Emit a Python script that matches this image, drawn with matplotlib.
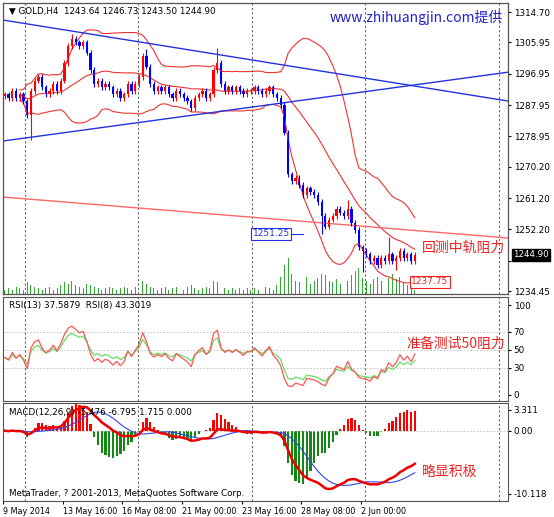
import numpy as np
import pandas as pd
import matplotlib.pyplot as plt

# 4-hour closes, GOLD H4
closes = [1291, 1290, 1292, 1290, 1291, 1289, 1285, 1292, 1295, 1296,
          1293, 1291, 1292, 1294, 1292, 1295, 1300, 1305, 1307, 1306,
          1305, 1306, 1303, 1298, 1294, 1295, 1293, 1294, 1293, 1291,
          1292, 1290, 1291, 1294, 1292, 1294, 1296, 1302, 1299, 1294,
          1292, 1293, 1292, 1293, 1291, 1290, 1292, 1291, 1290, 1289,
          1287, 1290, 1291, 1292, 1290, 1291, 1298, 1300, 1294, 1292,
          1293, 1292, 1293, 1292, 1291, 1292, 1292, 1293, 1292, 1291,
          1292, 1293, 1291, 1290, 1288, 1280, 1268, 1266, 1267, 1265,
          1262, 1264, 1263, 1262, 1260, 1256, 1253, 1255, 1256, 1258,
          1257, 1256, 1258, 1254, 1252, 1247, 1246, 1245, 1243, 1244,
          1242, 1244, 1243, 1245, 1243, 1244, 1246, 1244, 1245, 1243, 1244.9]
first_open = 1290.5
spike_high = {18: 1308.5, 38: 1304.0, 57: 1304.5, 103: 1250.0, 92: 1260.5}
spike_low = {7: 1278.0, 96: 1240.0, 105: 1240.5, 85: 1251.0}
volume = [3, 4, 3, 5, 4, 3, 8, 6, 5, 4, 3, 4, 5, 3, 4, 6, 8, 7, 9, 6,
          5, 4, 7, 6, 5, 4, 3, 4, 5, 4, 3, 4, 5, 4, 3, 5, 6, 9, 7, 5,
          4, 3, 4, 5, 3, 4, 5, 4, 3, 5, 6, 4, 3, 4, 5, 4, 9, 8, 6, 4,
          3, 4, 3, 4, 3, 4, 3, 4, 3, 4, 5, 4, 3, 6, 12, 20, 25, 14, 9, 8,
          10, 12, 7, 9, 11, 14, 13, 9, 8, 10, 7, 12, 9, 13, 16, 18, 11, 9, 7, 10,
          12, 9, 8, 11, 14, 10, 12, 8, 6, 4, 3]

date_labels = ['9 May 2014', '13 May 16:00', '16 May 08:00', '21 May 00:00',
               '23 May 16:00', '28 May 08:00', '2 Jun 00:00']
price_ticks = [1314.70, 1305.95, 1296.95, 1287.95, 1278.95, 1270.20, 1261.20,
               1252.20, 1243.20, 1234.45]
rsi_ticks = [100, 70, 50, 30, 0]
macd_ticks = [3.311, 0.0, -10.118]
sep_bars = [5.4, 35.7, 66.2, 96.5, 132.7]

c = pd.Series(closes)
o = c.shift(1).fillna(first_open)
n = len(c)
idx = np.arange(n)
hi = np.maximum(o, c) + 0.8
lo = np.minimum(o, c) - 0.8
for k, v in spike_high.items():
    hi[k] = v
for k, v in spike_low.items():
    lo[k] = v

mid = c.rolling(20, min_periods=5).mean()
sd = c.rolling(20, min_periods=5).std(ddof=0)

def rsi(s, p, seed=0.9):
    d = s.diff().fillna(0).values
    up, dn = seed, seed * 1.4
    out = []
    for x in d:
        up = (up * (p - 1) + max(x, 0)) / p
        dn = (dn * (p - 1) + max(-x, 0)) / p
        out.append(100 - 100 / (1 + up / dn))
    return np.array(out)

rsi13 = rsi(c, 13)
rsi8 = rsi(c, 8)
macd = c.ewm(span=12, adjust=False).mean() - c.ewm(span=26, adjust=False).mean()
signal = macd.rolling(9, min_periods=1).mean()
hist = macd - signal

fig = plt.figure(figsize=(5.54, 5.17), dpi=100)
L, W = 3 / 554, 505 / 554
ax = fig.add_axes([L, 1 - 294 / 517, W, 291 / 517])
ax_r = fig.add_axes([L, 1 - 401 / 517, W, 104 / 517])
ax_m = fig.add_axes([L, 1 - 501 / 517, W, 98 / 517])
fs = 6.3

# volume
axv = ax.twinx()
axv.set_ylim(0, 200)
axv.bar(idx, volume, width=0.25, color='#33aa33')
axv.set_yticks([])
axv.set_xlim(-0.5, 135)

for a in (ax, ax_r, ax_m):
    a.set_xlim(-0.5, 135)
    a.yaxis.tick_right()
    a.tick_params(labelsize=fs, length=2, pad=2)
    for s in a.spines.values():
        s.set_color('#555555')
        s.set_linewidth(0.8)
    for b in sep_bars:
        a.axvline(b, color='#666666', ls=(0, (2, 2)), lw=0.8)
    a.set_xticks([])

ax.set_ylim(1233.6, 1317.3)
ax.set_yticks(price_ticks)
ax.set_yticklabels(['' if t == 1243.20 else '%.2f' % t for t in price_ticks])
ax.set_zorder(axv.get_zorder() + 1)
ax.patch.set_visible(False)

for band in (mid + 2 * sd, mid, mid - 2 * sd):
    ax.plot(idx, band, color='#ee3333', lw=0.8)
ax.plot([-0.5, 135], [1312.4, 1289.1], color='#2233dd', lw=1)
ax.plot([-0.5, 135], [1277.6, 1297.4], color='#2233dd', lw=1)
ax.plot([-0.5, 135], [1261.5, 1249.7], color='#ff6666', lw=1)

colors = np.where(c >= o, '#ff0000', '#0000ff')
ax.vlines(idx, lo, hi, colors=colors, lw=0.8)
ax.bar(idx, np.abs(c - o).clip(lower=0.3), bottom=np.minimum(o, c),
       width=0.6, color=colors)

ax.text(0.012, 0.985, '▼ GOLD,H4  1243.64 1246.73 1243.50 1244.90',
        transform=ax.transAxes, fontsize=fs, va='top')
ax.text(0.99, 0.975, 'www.zhihuangjin.com提供', transform=ax.transAxes,
        fontsize=10, va='top', ha='right', color='#2222cc',
        family=['Noto Sans CJK SC', 'DejaVu Sans'])
ax.text(0.995, 0.16, '回测中轨阻力', transform=ax.transAxes, fontsize=10,
        ha='right', va='center', color='#ee2222', family=['Noto Sans CJK SC'])
ax.text(71.5, 1250.9, '1251.25', fontsize=6.5, color='#2233dd', ha='center',
        va='center', bbox=dict(boxstyle='square,pad=0.15', fc='white', ec='#2233dd', lw=0.8))
ax.plot([76.5, 80], [1250.9, 1250.9], color='#2233dd', lw=0.8)
ax.text(114, 1237.1, '1237.75', fontsize=6.5, color='#ee2222', ha='center',
        va='center', bbox=dict(boxstyle='square,pad=0.15', fc='white', ec='#ee2222', lw=0.8))
ax.plot([111, 109], [1237.1, 1237.1], color='#ee2222', lw=0.8)
ax.text(1.01, (1244.9 - 1233.6) / (1317.3 - 1233.6), '1244.90', transform=ax.transAxes,
        fontsize=fs, color='white', va='center', ha='left',
        bbox=dict(boxstyle='square,pad=0.15', fc='black', ec='black'))

# RSI
ax_r.set_ylim(-6.7, 108.9)
ax_r.set_yticks(rsi_ticks)
for lv in (70, 50, 30):
    ax_r.axhline(lv, color='#bbbbbb', ls=(0, (2, 2)), lw=0.6)
ax_r.plot(idx, rsi13, color='#66dd66', lw=0.9)
ax_r.plot(idx, rsi8, color='#ff5555', lw=0.9)
ax_r.text(0.012, 0.96, 'RSI(13) 37.5879  RSI(8) 43.3019', transform=ax_r.transAxes,
          fontsize=fs, va='top')
ax_r.text(0.995, 0.55, '准备测试50阻力', transform=ax_r.transAxes, fontsize=10,
          ha='right', va='center', color='#ee2222', family=['Noto Sans CJK SC'])

# MACD
ax_m.set_ylim(-11.24, 4.43)
ax_m.set_yticks(macd_ticks)
ax_m.set_yticklabels(['3.311', '0.00', '-10.118'])
ax_m.axhline(0, color='#bbbbbb', ls=(0, (2, 2)), lw=0.6)
ax_m.bar(idx, hist * 2.2, width=0.6, color=np.where(hist >= 0, '#ff0000', '#118811'))
ax_m.plot(idx, signal, color='#3344ee', lw=0.8)
ax_m.plot(idx, macd, color='#ee0000', lw=1.8)
ax_m.text(0.012, 0.95, 'MACD(12,26,9) -5.476 -6.795 1.715 0.000', transform=ax_m.transAxes,
          fontsize=fs, va='top')
ax_m.text(0.012, 0.03, 'MetaTrader, ? 2001-2013, MetaQuotes Software Corp.',
          transform=ax_m.transAxes, fontsize=fs, va='bottom')
ax_m.text(0.94, 0.3, '略显积极', transform=ax_m.transAxes, fontsize=10,
          ha='right', va='center', color='#ee2222', family=['Noto Sans CJK SC'])
ax_m.set_xticks([-0.5 + 16 * k for k in range(len(date_labels))])
ax_m.set_xticklabels(date_labels, ha='left', fontsize=5.8)

fig.savefig('out.png', dpi=100)
